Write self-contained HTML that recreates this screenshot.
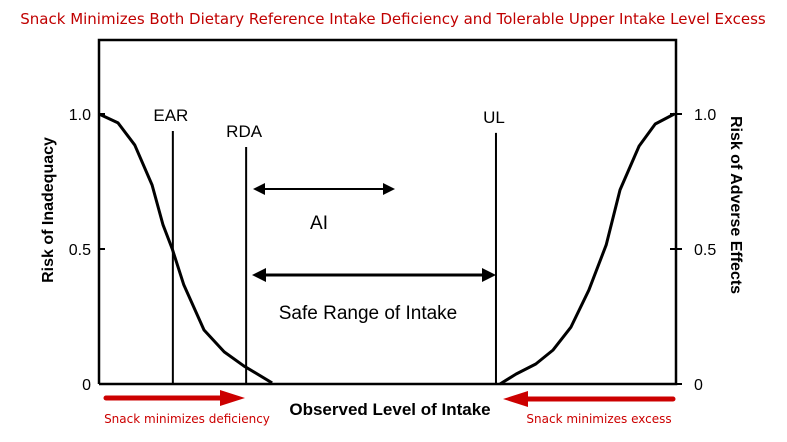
<!DOCTYPE html>
<html><head><meta charset="utf-8"><style>
body{margin:0;background:#fff;width:787px;height:442px;overflow:hidden}
svg{display:block}
</style></head><body>
<svg id="c" width="787" height="442" font-family="Liberation Sans, sans-serif">
<text x="393" y="24" text-anchor="middle" fill="#c00000" font-size="15" font-family="DejaVu Sans, sans-serif">Snack Minimizes Both Dietary Reference Intake Deficiency and Tolerable Upper Intake Level Excess</text>
<g id="plot"></g>
</svg>
<script>
const leftX=[0,3.3,6.2,9.2,11.1,12.7,14.7,18.2,21.7,25.1,30];
const leftY=[1,0.967,0.885,0.737,0.589,0.5,0.367,0.2,0.119,0.067,0.004];
const rightX=[69.5,72.3,75.7,78.7,81.8,84.9,87.9,90.3,93.6,96.4,99.7];
const rightY=[0,0.037,0.074,0.126,0.211,0.348,0.515,0.719,0.881,0.963,1];
const yTicks=[0,0.5,1.0];
const yTickLabels=["0","0.5","1.0"];
const refNames=["EAR","RDA","UL"];
const refX=[12.8,25.5,68.8];
const refTop=[0.937,0.878,0.93];
const X=v=>99+v*5.77, Y=v=>384-v*270;
const ns="http://www.w3.org/2000/svg", g=document.getElementById('plot');
function mk(t,a,txt){const e=document.createElementNS(ns,t);for(const k in a)e.setAttribute(k,a[k]);if(txt!=null)e.textContent=txt;g.appendChild(e);return e;}
let e;
e=mk('path',{d:`M${X(0)},${Y(0)} V40 H${X(100)} V${Y(0)} H${X(0)}`,fill:'none',stroke:'#000','stroke-width':2.5});


yTicks.forEach((t,i)=>{
 e=mk('line',{x1:X(0),x2:X(0)+6,y1:Y(t),y2:Y(t),stroke:'#000','stroke-width':2});
 
 
 e=mk('text',{x:X(0)-8,y:Y(t)+6,'text-anchor':'end','font-size':16},yTickLabels[i]);
 
 
 e=mk('line',{x1:X(100)-6,x2:X(100)+6,y1:Y(t),y2:Y(t),stroke:'#000','stroke-width':2});
 
 
 e=mk('text',{x:X(100)+18,y:Y(t)+6,'font-size':16},yTickLabels[i]);
 
 
});
e=mk('text',{transform:'translate(53,210) rotate(-90)','text-anchor':'middle','font-size':16,'font-weight':'bold'},'Risk of Inadequacy');


e=mk('text',{transform:'translate(731,205) rotate(90)','text-anchor':'middle','font-size':16,'font-weight':'bold'},'Risk of Adverse Effects');


refNames.forEach((n,i)=>{
 e=mk('line',{x1:X(refX[i]),x2:X(refX[i]),y1:Y(refTop[i]),y2:Y(0),stroke:'#000','stroke-width':2});
 
 
 e=mk('text',{x:X(refX[i])-2,y:Y(refTop[i])-10,'text-anchor':'middle','font-size':17},n);
 
 
});
function line(xs,ys,name){
 e=mk('path',{d:xs.map((x,i)=>(i?'L':'M')+X(x)+','+Y(ys[i])).join(''),fill:'none',stroke:'#000','stroke-width':3,'stroke-linejoin':'round'});
 
 
}
line(leftX,leftY,'inadequacy-curve');
line(rightX,rightY,'adverse-effects-curve');
function arrow(x1,x2,y,w,both,col,name,h){
 const d=both?`M${x1+h},${y-h/2}L${x1},${y}L${x1+h},${y+h/2}Z M${x2-h},${y-h/2}L${x2},${y}L${x2-h},${y+h/2}Z`:'';
 e=mk('line',{x1:x1+(both?4:0),x2:x2-4,y1:y,y2:y,stroke:col,'stroke-width':w});
 
 
 e=mk('path',{d,fill:col});
 
 
}
arrow(253,395,189,2,true,'#000','ai-arrow',12);
arrow(252,496,275,3,true,'#000','safe-range-arrow',14);
e=mk('text',{x:319,y:229,'text-anchor':'middle','font-size':19},'AI');


e=mk('text',{x:368,y:319,'text-anchor':'middle','font-size':19},'Safe Range of Intake');


e=mk('text',{x:390,y:415,'text-anchor':'middle','font-size':17,'font-weight':'bold'},'Observed Level of Intake');


e=mk('line',{x1:106,x2:228,y1:398,y2:398,stroke:'#cc0000','stroke-width':5,'stroke-linecap':'round'});


e=mk('path',{d:'M220,390L245,398L220,406Z',fill:'#cc0000'});


e=mk('line',{x1:673,x2:520,y1:399,y2:399,stroke:'#cc0000','stroke-width':5,'stroke-linecap':'round'});


e=mk('path',{d:'M528,391L503,399L528,407Z',fill:'#cc0000'});


e=mk('text',{x:187,y:423,'text-anchor':'middle','font-size':12,fill:'#cc0000','font-family':'DejaVu Sans, sans-serif'},'Snack minimizes deficiency');


e=mk('text',{x:599,y:423,'text-anchor':'middle','font-size':12,fill:'#cc0000','font-family':'DejaVu Sans, sans-serif'},'Snack minimizes excess');


</script>
</body></html>
